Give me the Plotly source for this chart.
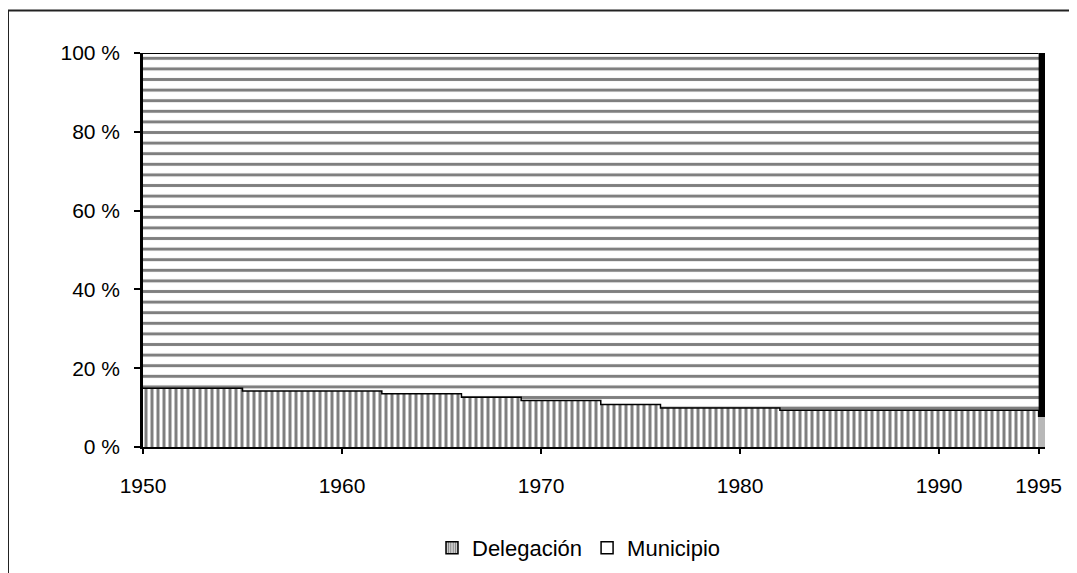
import plotly.graph_objects as go

years = list(range(1950, 1996))
delegacion = [14.9, 14.9, 14.9, 14.9, 14.9,
              14.2, 14.2, 14.2, 14.2, 14.2, 14.2, 14.2,
              13.5, 13.5, 13.5, 13.5,
              12.6, 12.6, 12.6,
              11.8, 11.8, 11.8, 11.8,
              10.8, 10.8, 10.8,
              9.9, 9.9, 9.9, 9.9, 9.9, 9.9,
              9.3, 9.3, 9.3, 9.3, 9.3, 9.3, 9.3, 9.3, 9.3, 9.3, 9.3, 9.3, 9.3,
              7.6]
municipio = [85.1, 85.1, 85.1, 85.1, 85.1,
             85.8, 85.8, 85.8, 85.8, 85.8, 85.8, 85.8,
             86.5, 86.5, 86.5, 86.5,
             87.4, 87.4, 87.4,
             88.2, 88.2, 88.2, 88.2,
             89.2, 89.2, 89.2,
             90.1, 90.1, 90.1, 90.1, 90.1, 90.1,
             90.7, 90.7, 90.7, 90.7, 90.7, 90.7, 90.7, 90.7, 90.7, 90.7, 90.7, 90.7, 90.7,
             92.4]
x_ticks = [1950, 1960, 1970, 1980, 1990, 1995]
y_ticks = [0, 20, 40, 60, 80, 100]
y_labels = ["0 %", "20 %", "40 %", "60 %", "80 %", "100 %"]

FONT = "Liberation Sans, Arial, sans-serif"
PAT_DEL = dict(shape="|", fgcolor="black", bgcolor="white", size=6, solidity=0.5)
PAT_MUN = dict(shape="-", fgcolor="black", bgcolor="white", size=10.6, solidity=0.28)

fig = go.Figure()
fig.add_trace(go.Scatter(
    x=years, y=delegacion, name="Delegación", stackgroup="one", showlegend=False,
    mode="lines", line=dict(color="black", width=1.5, shape="hv"),
    fillcolor="white", fillpattern=PAT_DEL,
))
fig.add_trace(go.Scatter(
    x=years, y=municipio, name="Municipio", stackgroup="one", showlegend=False,
    mode="lines", line=dict(color="black", width=2, shape="hv"),
    fillcolor="white", fillpattern=PAT_MUN,
))
# last year column drawn as a narrow bar (as in the reference)
fig.add_trace(go.Bar(
    x=[years[-1] + 0.09], y=[delegacion[-1]], width=0.42, base=[0],
    marker=dict(color="#b8b8b8", line=dict(width=0)), showlegend=False, hoverinfo="skip",
))
fig.add_trace(go.Bar(
    x=[years[-1] + 0.09], y=[municipio[-1]], width=0.42, base=[delegacion[-1]],
    marker=dict(color="black", line=dict(width=0)), showlegend=False, hoverinfo="skip",
))
# legend entries
fig.add_trace(go.Bar(
    x=[None], y=[None], name="Delegación",
    marker=dict(color="white", pattern=dict(shape="|", fgcolor="black", bgcolor="white",
                                            size=3, solidity=0.6),
                line=dict(color="black", width=1.5)),
))
fig.add_trace(go.Bar(
    x=[None], y=[None], name="Municipio",
    marker=dict(color="white", line=dict(color="black", width=1.5)),
))

W, H = 1077, 573
OFF = 8  # page body margin
L, R, T, B = 143 - OFF, 1045 - OFF, 53 - OFF, 451 - OFF


def px(x):
    return (x - OFF - L) / (R - L)


def py(y):
    return (B - (y - OFF)) / (B - T)


fig.update_layout(
    width=W, height=H,
    margin=dict(l=L, r=W - R, t=T, b=H - B),
    paper_bgcolor="white", plot_bgcolor="white",
    barmode="overlay", bargap=0,
    font=dict(family=FONT, size=21, color="black"),
    showlegend=True,
    legend=dict(orientation="h", x=px(579), xanchor="center", y=py(553), yanchor="middle",
                font=dict(size=22, color="black"), traceorder="normal",
                itemwidth=30, bgcolor="rgba(0,0,0,0)"),
    xaxis=dict(range=[1950, 1995.32], tickvals=x_ticks, ticks="outside", ticklen=5,
               tickcolor="black", tickwidth=1.5, showline=True, linecolor="black", linewidth=1.5,
               showgrid=False, zeroline=False, tickfont=dict(size=21),
               ticklabelstandoff=14),
    yaxis=dict(range=[0, 100], tickvals=y_ticks, ticktext=y_labels, ticks="outside", ticklen=6,
               tickcolor="black", tickwidth=1.5, showline=True, linecolor="black", linewidth=2.5,
               showgrid=False, zeroline=False, tickfont=dict(size=21),
               ticklabelstandoff=10),
    shapes=[
        dict(type="line", xref="paper", yref="paper", x0=px(8), x1=px(1090), y0=py(10), y1=py(10),
             line=dict(color="#222", width=2)),
        dict(type="line", xref="paper", yref="paper", x0=px(8), x1=px(8), y0=py(10), y1=py(585),
             line=dict(color="#222", width=2)),
    ],
)

fig.write_html("out.html")
